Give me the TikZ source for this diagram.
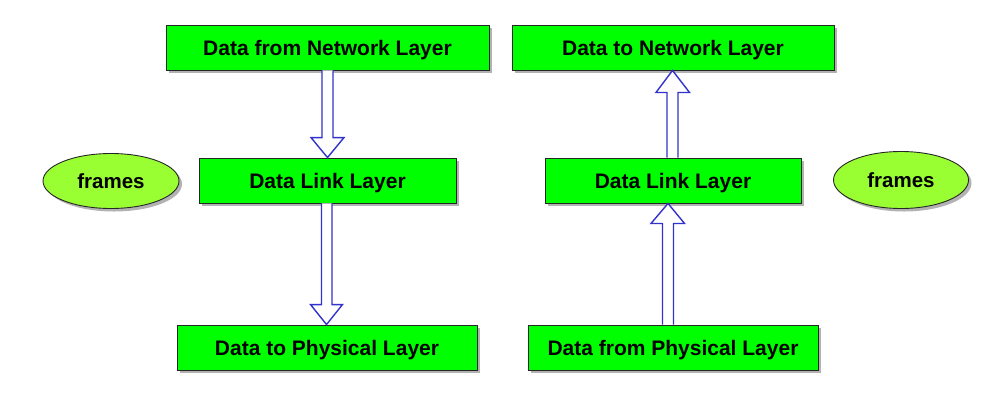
\documentclass[tikz,border=0pt]{standalone}
\usepackage{fontspec}
\setmainfont{Liberation Sans}
\usetikzlibrary{shadows,calc,shapes.geometric}
\definecolor{boxgreen}{RGB}{0,255,0}
\definecolor{ellgreen}{RGB}{153,255,51}
\definecolor{arrblue}{RGB}{50,50,205}
\begin{document}
\begin{tikzpicture}[x=1pt,y=-1pt,
  layerbox/.style={draw=black!85, line width=0.9pt, fill=boxgreen, minimum height=45pt, inner sep=0pt,
    text depth=0pt, font=\fontsize{21}{25}\selectfont\bfseries,
    drop shadow={shadow xshift=3pt, shadow yshift=-3pt, fill=black, opacity=0.3}},
  frameell/.style={ellipse, draw=black!85, line width=0.9pt, fill=ellgreen, inner sep=0pt,
    text depth=0pt, font=\fontsize{20.5}{25}\selectfont\bfseries,
    drop shadow={shadow xshift=3pt, shadow yshift=-3pt, fill=black, opacity=0.3}},
  blockarrow/.style={draw=arrblue, fill=white, line width=1.4pt, line join=miter}]
\useasboundingbox (0,0) rectangle (1006,405);

\node[layerbox, minimum width=323pt] (n1) at (327.5,47.5) {Data from Network Layer};
\node[layerbox, minimum width=257pt] (dl1) at (327.5,180.5) {Data Link Layer};
\node[layerbox, minimum width=300pt] (p1) at (327,347.5) {Data to Physical Layer};
\node[layerbox, minimum width=322pt] (n2) at (673,47.5) {Data to Network Layer};
\node[layerbox, minimum width=256pt] (dl2) at (673,180.5) {Data Link Layer};
\node[layerbox, minimum width=290pt] (p2) at (673,347.5) {Data from Physical Layer};
\node[frameell, minimum width=136pt, minimum height=55pt] (e1) at (111,181) {frames};
\node[frameell, minimum width=135pt, minimum height=57pt] (e2) at (901,180) {frames};

% downward block arrows
\draw[blockarrow] let \p1=(n1.south), \p2=(dl1.north) in
  (\x1-5.5pt,\y1) -- (\x1-5.5pt,\y2+20pt) -- (\x1-16.5pt,\y2+20pt) -- (\x1,\y2)
  -- (\x1+16.5pt,\y2+20pt) -- (\x1+5.5pt,\y2+20pt) -- (\x1+5.5pt,\y1);
\draw[blockarrow] let \p1=(dl1.south), \p2=(p1.north) in
  (\x1-6pt,\y1) -- (\x1-6pt,\y2+20pt) -- (\x1-17pt,\y2+20pt) -- (\x1-1pt,\y2)
  -- (\x1+15pt,\y2+20pt) -- (\x1+4.5pt,\y2+20pt) -- (\x1+4.5pt,\y1);
% upward block arrows
\draw[blockarrow] let \p1=(dl2.north), \p2=(n2.south) in
  (\x1-6pt,\y1) -- (\x1-6pt,\y2-22pt) -- (\x1-17pt,\y2-22pt) -- (\x1-0.5pt,\y2)
  -- (\x1+16.5pt,\y2-22pt) -- (\x1+5pt,\y2-22pt) -- (\x1+5pt,\y1);
\draw[blockarrow] let \p1=(p2.north), \p2=(dl2.south) in
  (\x1-10.5pt,\y1) -- (\x1-10.5pt,\y2-20pt) -- (\x1-22pt,\y2-20pt) -- (\x1-5pt,\y2)
  -- (\x1+11.5pt,\y2-20pt) -- (\x1+0.5pt,\y2-20pt) -- (\x1+0.5pt,\y1);
\end{tikzpicture}
\end{document}
